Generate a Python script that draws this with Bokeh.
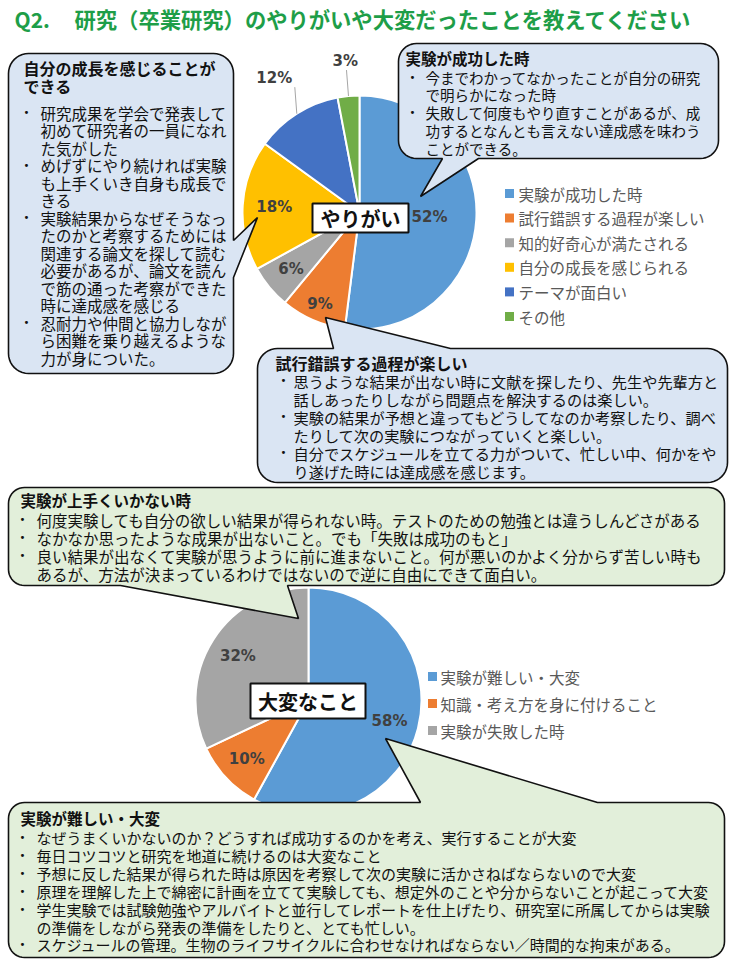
import math
from bokeh.plotting import figure
from bokeh.models import Range1d
from bokeh.core.properties import value
from bokeh.embed import file_html
from bokeh.resources import INLINE

# ---------------- data ----------------
title_q = "Q2."
title_text = "研究（卒業研究）のやりがいや大変だったことを教えてください"

yarigai_label = "やりがい"
yarigai_cats = ["実験が成功した時", "試行錯誤する過程が楽しい", "知的好奇心が満たされる",
                "自分の成長を感じられる", "テーマが面白い", "その他"]
yarigai_vals = [52, 9, 6, 18, 12, 3]
yarigai_colors = ["#5B9BD5", "#ED7D31", "#A5A5A5", "#FFC000", "#4472C4", "#70AD47"]

taihen_label = "大変なこと"
taihen_cats = ["実験が難しい・大変", "知識・考え方を身に付けること", "実験が失敗した時"]
taihen_vals = [58, 10, 32]
taihen_colors = ["#5B9BD5", "#ED7D31", "#A5A5A5"]

callout_success_title = ["実験が成功した時"]
callout_success_items = [
    ["今までわかってなかったことが自分の研究", "で明らかになった時"],
    ["失敗して何度もやり直すことがあるが、成", "功するとなんとも言えない達成感を味わう", "ことができる。"],
]
callout_growth_title = ["自分の成長を感じることが", "できる"]
callout_growth_items = [
    ["研究成果を学会で発表して", "初めて研究者の一員になれ", "た気がした"],
    ["めげずにやり続ければ実験", "も上手くいき自身も成長で", "きる"],
    ["実験結果からなぜそうなっ", "たのかと考察するためには", "関連する論文を探して読む",
     "必要があるが、論文を読ん", "で筋の通った考察ができた", "時に達成感を感じる"],
    ["忍耐力や仲間と協力しなが", "ら困難を乗り越えるような", "力が身についた。"],
]
callout_trial_title = ["試行錯誤する過程が楽しい"]
callout_trial_items = [
    ["思うような結果が出ない時に文献を探したり、先生や先輩方と", "話しあったりしながら問題点を解決するのは楽しい。"],
    ["実験の結果が予想と違ってもどうしてなのか考察したり、調べ", "たりして次の実験につながっていくと楽しい。"],
    ["自分でスケジュールを立てる力がついて、忙しい中、何かをや", "り遂げた時には達成感を感じます。"],
]
callout_fail_title = ["実験が上手くいかない時"]
callout_fail_items = [
    ["何度実験しても自分の欲しい結果が得られない時。テストのための勉強とは違うしんどさがある"],
    ["なかなか思ったような成果が出ないこと。でも「失敗は成功のもと」"],
    ["良い結果が出なくて実験が思うように前に進まないこと。何が悪いのかよく分からず苦しい時も",
     "あるが、方法が決まっているわけではないので逆に自由にできて面白い。"],
]
callout_hard_title = ["実験が難しい・大変"]
callout_hard_items = [
    ["なぜうまくいかないのか？どうすれば成功するのかを考え、実行することが大変"],
    ["毎日コツコツと研究を地道に続けるのは大変なこと"],
    ["予想に反した結果が得られた時は原因を考察して次の実験に活かさねばならないので大変"],
    ["原理を理解した上で綿密に計画を立てて実験しても、想定外のことや分からないことが起こって大変"],
    ["学生実験では試験勉強やアルバイトと並行してレポートを仕上げたり、研究室に所属してからは実験",
     "の準備をしながら発表の準備をしたりと、とても忙しい。"],
    ["スケジュールの管理。生物のライフサイクルに合わせなければならない／時間的な拘束がある。"],
]

# ---------------- layout ----------------
W, H = 732, 960
F = "Noto Sans CJK JP"
BLUE_FILL = "#DAE5F3"
GREEN_FILL = "#E2EFDA"


def Y(y):
    return H - y


p = figure(width=W, height=H, x_range=Range1d(0, W), y_range=Range1d(0, H),
           output_backend="svg", toolbar_location=None, min_border=0)
p.axis.visible = False
p.grid.visible = False
p.outline_line_color = None
p.background_fill_color = "white"
p.border_fill_color = "white"


def draw_pie(cx, cy, r, vals, colors, label_r, outside):
    total = float(sum(vals))
    cum = 0.0
    starts, ends, mids = [], [], []
    for v in vals:
        a0 = math.pi / 2 - 2 * math.pi * cum / total
        cum += v
        a1 = math.pi / 2 - 2 * math.pi * cum / total
        starts.append(a0)
        ends.append(a1)
        mids.append((a0 + a1) / 2)
    p.wedge(x=[cx] * len(vals), y=[Y(cy)] * len(vals), radius=r,
            start_angle=starts, end_angle=ends, direction="clock",
            fill_color=colors, line_color="white", line_width=2)
    lx, ly, lt = [], [], []
    for i, v in enumerate(vals):
        rr = r * label_r[i]
        x = cx + rr * math.cos(mids[i])
        y = Y(cy) + rr * math.sin(mids[i])
        lx.append(x)
        ly.append(y)
        lt.append(f"{v}%")
        if outside[i]:
            ex = cx + r * math.cos(mids[i])
            ey = Y(cy) + r * math.sin(mids[i])
            p.line([ex, ex - 2], [ey, y - 9], line_color="#A6A6A6", line_width=1)
    return lx, ly, lt


def callout(x0, y0, x1, y1, r, fill, side, a, b, tip):
    pts = []

    def arc(cx, cy, t0, t1):
        n = 10
        for k in range(n + 1):
            t = math.radians(t0 + (t1 - t0) * k / n)
            pts.append((cx + r * math.cos(t), cy + r * math.sin(t)))

    pts.append((x0 + r, y0))
    if side == "top":
        pts += [(a, y0), tip, (b, y0)]
    arc(x1 - r, y0 + r, -90, 0)
    if side == "right":
        pts += [(x1, a), tip, (x1, b)]
    arc(x1 - r, y1 - r, 0, 90)
    if side == "bottom":
        pts += [(b, y1), tip, (a, y1)]
    arc(x0 + r, y1 - r, 90, 180)
    if side == "left":
        pts += [(x0, b), tip, (x0, a)]
    arc(x0 + r, y0 + r, 180, 270)
    p.patch([q[0] for q in pts], [Y(q[1]) for q in pts], fill_color=fill,
            line_color="#111111", line_width=1.6)


def callout_text(tx, ty, title_lines, title_size, title_step, bx, bxt, by, items, size, step):
    ys = [Y(ty + i * title_step) for i in range(len(title_lines))]
    p.text(x=[tx] * len(title_lines), y=ys, text=title_lines, text_font=value(F),
           text_font_size=value(title_size), text_font_style="bold",
           text_baseline="middle", text_color="#111111")
    xs, yy, tt = [], [], []
    bxs, bys = [], []
    k = 0
    for item in items:
        bxs.append(bx)
        bys.append(Y(by + k * step))
        for line in item:
            xs.append(bxt)
            yy.append(Y(by + k * step))
            tt.append(line)
            k += 1
    p.text(x=xs, y=yy, text=tt, text_font=value(F), text_font_size=value(size),
           text_baseline="middle", text_color="#111111")
    p.text(x=bxs, y=bys, text=["•"] * len(bxs), text_font=value("DejaVu Sans"),
           text_font_size=value("10px"), text_baseline="middle", text_align="center",
           text_color="#111111")


# ---- pies ----
l1 = draw_pie(359, 212, 117, yarigai_vals, yarigai_colors,
              [0.60, 0.85, 0.76, 0.73, 1.36, 1.30], [False, False, False, False, True, True])
l2 = draw_pie(308, 700, 113, taihen_vals, taihen_colors,
              [0.74, 0.75, 0.74], [False, False, False])

# ---- callouts (top section) ----
callout(398, 43, 718, 158, 18, BLUE_FILL, "bottom", 442, 478, (420, 196))
callout_text(405, 57, callout_success_title, "15.5px", 18, 412, 425, 76.5, callout_success_items, "14.5px", 17.8)

callout(8, 53, 233, 373, 20, BLUE_FILL, "right", 240, 277, (257, 217))
callout_text(23, 67, callout_growth_title, "16px", 18, 26, 40, 112, callout_growth_items, "15.5px", 17.5)

callout(257, 348, 727, 482, 20, BLUE_FILL, "top", 333, 450, (325, 317))
callout_text(275, 362, callout_trial_title, "16px", 18, 283, 293, 380, callout_trial_items, "15.2px", 18.0)

# ---- callouts (bottom section) ----
callout(8, 487, 724, 585, 16, GREEN_FILL, "bottom", 120, 287, (298, 618))
callout_text(20, 499, callout_fail_title, "15.5px", 18, 22, 36, 519, callout_fail_items, "15.5px", 18.2)

callout(8, 802, 724, 957, 16, GREEN_FILL, "top", 420, 597, (385, 738))
callout_text(20, 817, callout_hard_title, "15.5px", 18, 22, 36, 837, callout_hard_items, "15px", 17.9)

# ---- pie labels ----
for lx, ly, lt in (l1, l2):
    p.text(x=lx, y=ly, text=lt, text_font=value("DejaVu Sans"), text_font_size=value("15px"),
           text_font_style="bold", text_align="center", text_baseline="middle", text_color="#404040")

# ---- center boxes ----
p.quad(left=[312, 250], right=[408, 365], top=[Y(203), Y(683)], bottom=[Y(232), Y(718)],
       fill_color="white", line_color="#111111", line_width=2)
p.text(x=[360, 307.5], y=[Y(218), Y(701)], text=[yarigai_label, taihen_label], text_font=value(F),
       text_font_size=value("20px"), text_font_style="bold", text_align="center",
       text_baseline="middle", text_color="#111111")

# ---- legends ----
lg1_y = [Y(193 + 24.6 * i) for i in range(len(yarigai_cats))]
p.scatter(x=[509] * len(yarigai_cats), y=lg1_y, marker="square", size=9,
          fill_color=yarigai_colors, line_color=None)
p.text(x=[518] * len(yarigai_cats), y=lg1_y, text=yarigai_cats, text_font=value(F),
       text_font_size=value("15.5px"), text_baseline="middle", text_color="#595959")

lg2_y = [Y(676 + 27 * i) for i in range(len(taihen_cats))]
p.scatter(x=[432] * len(taihen_cats), y=lg2_y, marker="square", size=9,
          fill_color=taihen_colors, line_color=None)
p.text(x=[440] * len(taihen_cats), y=lg2_y, text=taihen_cats, text_font=value(F),
       text_font_size=value("15.5px"), text_baseline="middle", text_color="#595959")

# ---- title ----
p.text(x=[14], y=[Y(18)], text=[title_q], text_font=value(F), text_font_size=value("21px"),
       text_font_style="bold", text_baseline="middle", text_color="#1E9E48")
p.text(x=[74], y=[Y(18)], text=[title_text], text_font=value(F), text_font_size=value("21.3px"),
       text_font_style="bold", text_baseline="middle", text_color="#1E9E48")

open("out.html", "w").write(file_html(p, INLINE))
